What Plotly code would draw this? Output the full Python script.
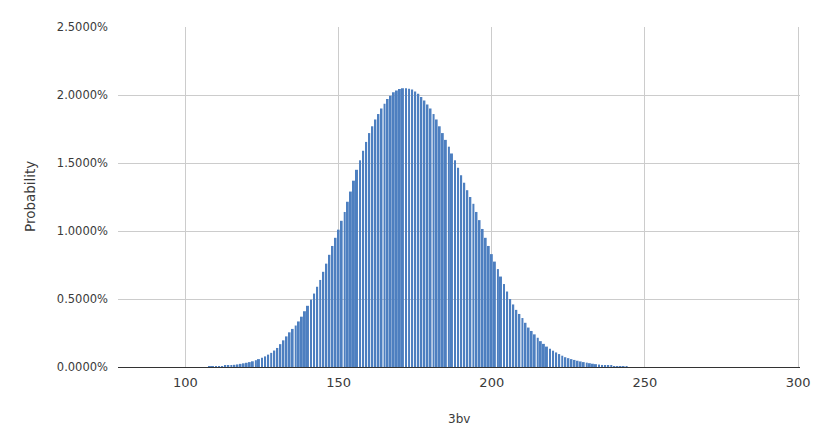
import plotly.graph_objects as go

# 3bv values (x) and their probabilities (percent)
bv = list(range(108, 245))
prob_pct = [
    0.002, 0.003, 0.004, 0.005, 0.007, 0.009, 0.011, 0.013, 0.016, 0.019,   # 108-117
    0.023, 0.027, 0.031, 0.036, 0.042, 0.050, 0.058, 0.068, 0.078, 0.091,   # 118-127
    0.104, 0.121, 0.140, 0.168, 0.196, 0.225, 0.255, 0.280, 0.305, 0.335,   # 128-137
    0.370, 0.410, 0.450, 0.495, 0.540, 0.590, 0.640, 0.700, 0.760, 0.825,   # 138-147
    0.890, 0.950, 1.010, 1.075, 1.140, 1.215, 1.290, 1.370, 1.450, 1.520,   # 148-157
    1.590, 1.655, 1.720, 1.770, 1.820, 1.860, 1.900, 1.935, 1.970, 1.995,   # 158-167
    2.020, 2.033, 2.045, 2.050, 2.050, 2.046, 2.040, 2.025, 2.010, 1.985,   # 168-177
    1.960, 1.930, 1.900, 1.860, 1.820, 1.770, 1.720, 1.670, 1.620, 1.570,   # 178-187
    1.520, 1.465, 1.410, 1.355, 1.300, 1.250, 1.200, 1.140, 1.080, 1.015,   # 188-197
    0.950, 0.890, 0.830, 0.775, 0.720, 0.665, 0.610, 0.555, 0.500, 0.460,   # 198-207
    0.420, 0.390, 0.360, 0.325, 0.290, 0.265, 0.240, 0.215, 0.190, 0.170,   # 208-217
    0.150, 0.135, 0.120, 0.107, 0.095, 0.083, 0.072, 0.065, 0.058, 0.052,   # 218-227
    0.046, 0.041, 0.036, 0.032, 0.028, 0.024, 0.021, 0.018, 0.015, 0.012,   # 228-237
    0.010, 0.008, 0.006, 0.004, 0.003, 0.002, 0.001,                        # 238-244
]
prob = [p / 100 for p in prob_pct]

x_ticks = [100, 150, 200, 250, 300]
y_ticks = [0, 0.005, 0.01, 0.015, 0.02, 0.025]

FONT = "DejaVu Sans"
TEXT = "#3a3a3a"

fig = go.Figure(
    go.Bar(
        x=bv,
        y=prob,
        marker=dict(color="#4d7fc0", line=dict(width=0)),
    )
)

fig.update_layout(
    width=818,
    height=435,
    margin=dict(l=118, r=18, t=27, b=68),
    paper_bgcolor="white",
    plot_bgcolor="white",
    bargap=0.35,
    showlegend=False,
    font=dict(family=FONT, color=TEXT),
    annotations=[
        dict(text="Probability", xref="paper", yref="paper", x=0, y=0.5,
             xanchor="center", yanchor="middle", xshift=-88, textangle=-90,
             showarrow=False, font=dict(family=FONT, size=13.5, color=TEXT)),
        dict(text="3bv", xref="paper", yref="paper", x=0.5, y=0,
             xanchor="center", yanchor="middle", yshift=-52,
             showarrow=False, font=dict(family=FONT, size=12, color=TEXT)),
    ],
)

fig.update_xaxes(
    range=[78, 300.6],
    tickvals=x_ticks,
    ticktext=[str(v) for v in x_ticks],
    showgrid=True,
    gridcolor="#cccccc",
    gridwidth=1,
    zeroline=False,
    showline=False,
    ticks="",
    automargin=False,
    ticklabelstandoff=6,
    tickfont=dict(family=FONT, size=13, color=TEXT),
)

fig.update_yaxes(
    range=[0, 0.025],
    tickvals=y_ticks,
    tickformat=".4%",
    showgrid=True,
    gridcolor="#cccccc",
    gridwidth=1,
    zeroline=True,
    zerolinecolor="#333333",
    zerolinewidth=1,
    showline=False,
    ticks="",
    automargin=False,
    ticklabelstandoff=9,
    tickfont=dict(family=FONT, size=11.5, color=TEXT),
)

fig.write_html(
    "out.html",
    config={"displayModeBar": False},
    post_script="document.body.style.margin='0';document.body.style.overflow='hidden';",
)
